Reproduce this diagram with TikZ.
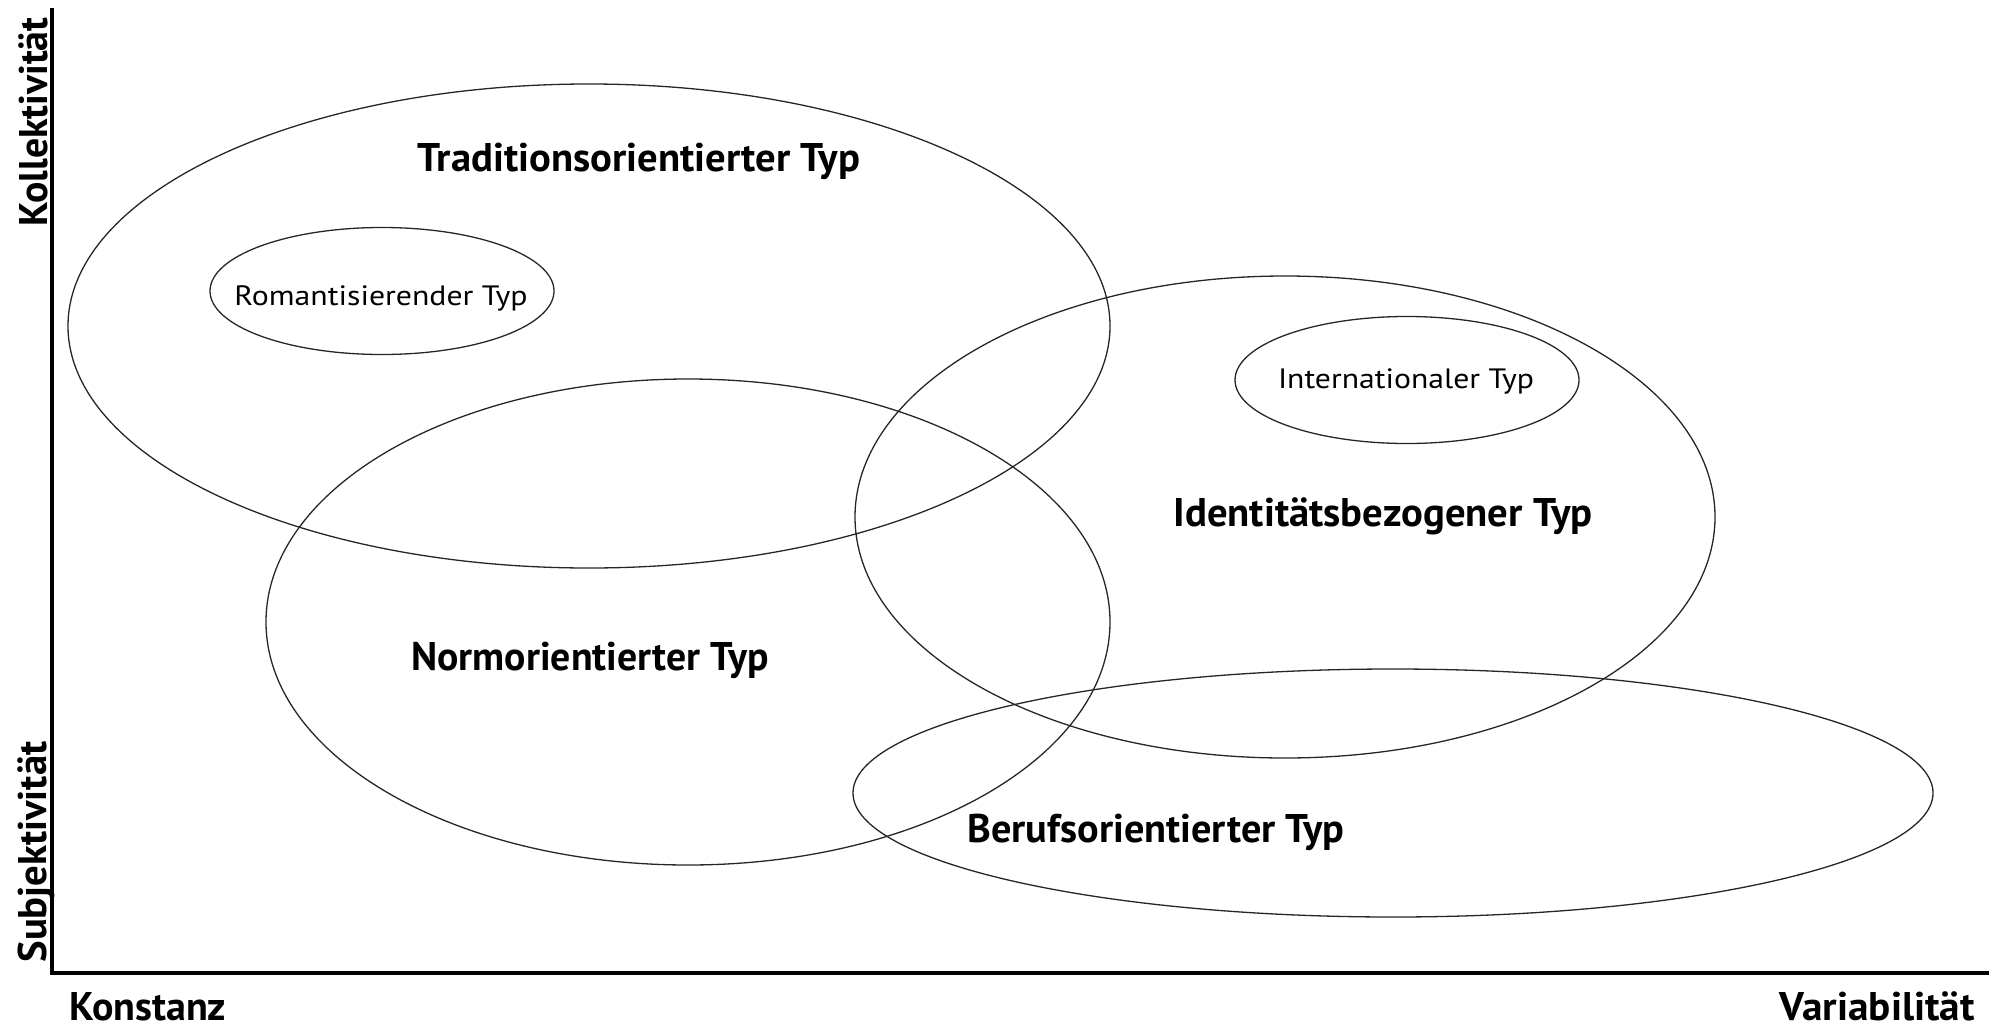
\documentclass[tikz,border=0pt]{standalone}
\usepackage{fontspec}
\setmainfont{PT Sans}
\usepackage{graphicx}
\newcommand{\fitw}[2]{\resizebox{#1pt}{\height}{#2}}
\tikzset{
  ring/.style={draw=black!85, line width=1.3pt},
  axisline/.style={line width=4pt, black},
  bigtxt/.style={inner sep=0pt, font=\fontsize{40}{48}\selectfont\bfseries},
  smalltxt/.style={inner sep=0pt, font=\fontsize{28}{34}\selectfont},
}
\begin{document}
\begin{tikzpicture}[x=1pt,y=-1pt]
\useasboundingbox (0,0) rectangle (1989,1028);
% axes
\coordinate (top) at (52,8);
\coordinate (origin) at (52,973);
\coordinate (right) at (1989,973);
\draw[axisline] (top) -- (origin) -- (right);
% axis labels
\node[bigtxt, rotate=90, anchor=base] (koll) at (47,122) {\fitw{209}{Kollektivität}};
\node[bigtxt, rotate=90, anchor=base] (subj) at (46,852) {\fitw{221}{Subjektivität}};
\node[bigtxt, anchor=base west] (konst) at (69,1020) {\fitw{157}{Konstanz}};
\node[bigtxt, anchor=base east] (varia) at (1975,1020) {\fitw{195}{Variabilität}};
% ellipses
\draw[ring] (589,326) ellipse [x radius=521, y radius=242];
\draw[ring] (382,291) ellipse [x radius=172, y radius=63.5];
\draw[ring] (688,622) ellipse [x radius=422, y radius=243];
\draw[ring] (1285,517) ellipse [x radius=430, y radius=241];
\draw[ring] (1407,380) ellipse [x radius=172, y radius=63.5];
\draw[ring] (1393,793) ellipse [x radius=540, y radius=124];
% labels
\node[bigtxt, anchor=base] (trad) at (639,171) {\fitw{442}{Traditionsorientierter Typ}};
\node[smalltxt, anchor=base] (roma) at (381,305) {\fitw{293}{Romantisierender Typ}};
\node[smalltxt, anchor=base] (inter) at (1406,388) {\fitw{256}{Internationaler Typ}};
\node[bigtxt, anchor=base] (ident) at (1383,526) {\fitw{419}{Identitätsbezogener Typ}};
\node[bigtxt, anchor=base] (norm) at (590,670) {\fitw{357}{Normorientierter Typ}};
\node[bigtxt, anchor=base] (beruf) at (1156,842) {\fitw{377}{Berufsorientierter Typ}};
\end{tikzpicture}
\end{document}
